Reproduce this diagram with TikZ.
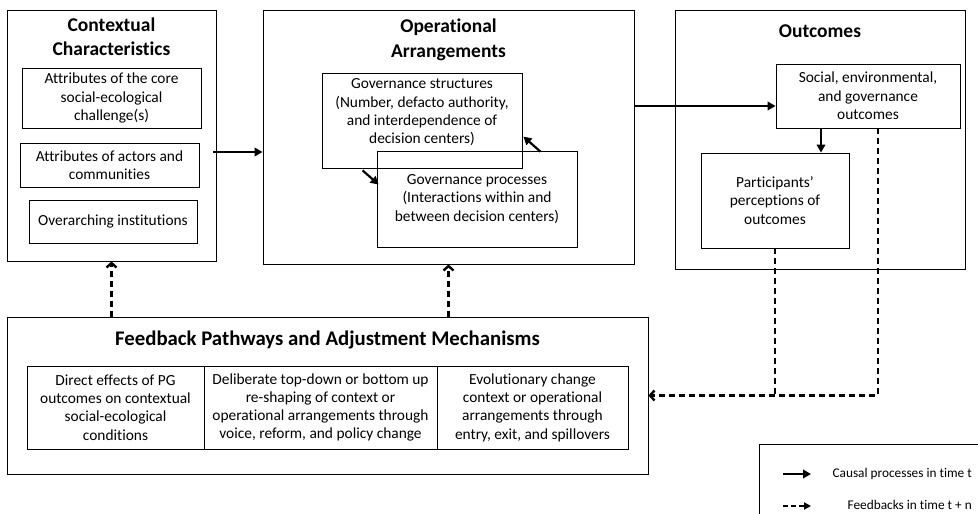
\documentclass[tikz,border=0pt]{standalone}
\usepackage{fontspec}
\setmainfont{Carlito}[Ligatures=CommonOff]
\usetikzlibrary{arrows.meta, calc}

\tikzset{
	bigbox/.style={draw, line width=0.8pt, inner sep=0pt},
	smallbox/.style={draw, line width=0.8pt, align=center, inner sep=0pt, font=\fontsize{15.4}{18.3}\selectfont},
	boxtext/.style={align=center, inner sep=0pt, font=\fontsize{15.4}{18.3}\selectfont},
	boxtitle/.style={align=center, inner sep=0pt, font=\bfseries\fontsize{19.5}{24.5}\selectfont},
	keytext/.style={inner sep=0pt, font=\fontsize{13.3}{15}\selectfont},
	causal/.style={line width=2.2pt, -{Triangle[length=8pt,width=8.5pt]}},
	feedback/.style={line width=2.4pt, dash pattern=on 6pt off 4pt, -{Straight Barb[length=4.5pt,width=10pt]}},
	feedbackline/.style={line width=2.4pt, dash pattern=on 6pt off 4pt},
	feedbackkey/.style={line width=2.4pt, dash pattern=on 5pt off 3pt, -{Triangle[length=7pt,width=7pt]}},
}

\begin{document}
\begin{tikzpicture}[x=1pt, y=-1pt]

	\useasboundingbox (0,0) rectangle (978,514);
	\clip (0,0) rectangle (978,514);

	\node[bigbox, minimum width=209pt, minimum height=251pt] (context) at (111.5,135.5) {};
	\node[boxtitle] (contexttitle) at (111.5,36.5) {Contextual\\Characteristics};
	\node[smallbox, minimum width=179pt, minimum height=60pt] (core) at (111.5,98) {Attributes of the core\\social-ecological\\challenge(s)};
	\node[smallbox, minimum width=179pt, minimum height=44pt] (actors) at (109.5,165) {Attributes of actors and\\communities};
	\node[smallbox, minimum width=168pt, minimum height=43pt] (instit) at (113,221.5) {Overarching institutions};

	\node[bigbox, minimum width=371pt, minimum height=254pt] (oper) at (448.5,137) {};
	\node[boxtitle] (opertitle) at (448.5,40) {Operational\\Arrangements};
	\node[bigbox, minimum width=200pt, minimum height=95pt] (gstruct) at (422,120.5) {};
	\node[boxtext] (gstructtext) at (422,112.5) {Governance structures\\(Number, defacto authority,\\and interdependence of\\decision centers)};
	\node[smallbox, minimum width=200pt, minimum height=96pt] (gproc) at (477,199) {Governance processes\\(Interactions within and\\between decision centers)};

	\node[bigbox, minimum width=290pt, minimum height=259pt] (outc) at (820,139.5) {};
	\node[boxtitle] (outctitle) at (820,31) {Outcomes};
	\node[smallbox, minimum width=184pt, minimum height=64pt] (social) at (868,96) {Social, environmental,\\and governance\\outcomes};
	\node[smallbox, minimum width=148pt, minimum height=95pt] (partic) at (775,200.5) {Participants'\\perceptions of\\outcomes};

	\node[bigbox, minimum width=641pt, minimum height=157pt] (feedb) at (327.5,395.5) {};
	\node[boxtitle, font=\bfseries\fontsize{20.8}{24.5}\selectfont] (feedbtitle) at (327.5,340) {Feedback Pathways and Adjustment Mechanisms};
	\node[smallbox, minimum width=177pt, minimum height=83pt] (direct) at (115.5,407.5) {Direct effects of PG\\outcomes on contextual\\social-ecological\\conditions};
	\node[smallbox, minimum width=233pt, minimum height=83pt] (deliberate) at (320.5,407.5) {Deliberate top-down or bottom up\\re-shaping of context or\\operational arrangements through\\voice, reform, and policy change};
	\node[smallbox, minimum width=191pt, minimum height=83pt] (evolution) at (532.5,407.5) {Evolutionary change\\context or operational\\arrangements through\\entry, exit, and spillovers};

	\draw[causal] ($(context.east)+(-3,16.5)$) -- ($(oper.west)+(0,15)$);
	\draw[causal] ($(oper.east)+(0,-31)$) -- ($(social.west)+(0,10)$);
	\draw[causal] ($(social.south)+(-47,0)$) -- ($(partic.north)+(46,0)$);
	\draw[causal] ($(gstruct.south west)+(41,2)$) -- ($(gproc.north west)+(2,34)$);
	\draw[causal] ($(gproc.north east)+(-37,1)$) -- ($(gstruct.north east)+(1,64)$);

	\draw[feedbackline] (partic.south) -- (partic.south |- feedb.east);
	\draw[feedback] ($(social.south)+(10,0)$) |- (feedb.east);
	\draw[feedback] (feedb.north -| context.south) -- (context.south);
	\draw[feedback] (feedb.north -| oper.south) -- (oper.south);

	\node[bigbox, minimum width=231pt, minimum height=81pt] (legend) at (874.5,484.5) {};
	\coordinate (causalfrom) at (783,474);
	\coordinate (causalto) at (811,474);
	\coordinate (feedbfrom) at (783,506);
	\coordinate (feedbto) at (811,506);
	\draw[causal] (causalfrom) -- (causalto);
	\draw[feedbackkey] (feedbfrom) -- (feedbto);
	\node[keytext, anchor=east] (causaltext) at (972,474) {Causal processes in time t};
	\node[keytext, anchor=east] (feedbtext) at (972,505) {Feedbacks in time t + n};

\end{tikzpicture}
\end{document}
